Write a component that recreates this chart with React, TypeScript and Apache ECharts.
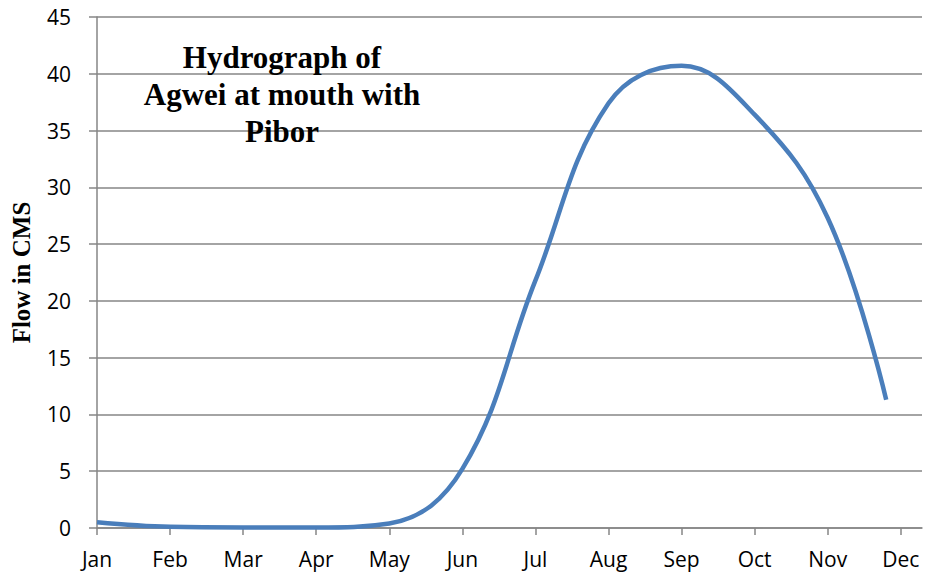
import React, { useEffect, useRef } from "react";
import * as echarts from "echarts";

const months = ["Jan", "Feb", "Mar", "Apr", "May", "Jun", "Jul", "Aug", "Sep", "Oct", "Nov", "Dec"];
const xPos = [0, 1, 2, 3, 4, 5, 6, 7, 8, 9, 10, 10.8];
const flow = [0.5, 0.1, 0.05, 0.05, 0.4, 5.2, 21.8, 37.4, 40.7, 36.4, 27.3, 11.3];
const yTicks = { min: 0, max: 45, interval: 5 };
const titleLines = ["Hydrograph of", "Agwei at mouth with", "Pibor"];

export default function App() {
  const ref = useRef<HTMLDivElement>(null);
  useEffect(() => {
    const chart = echarts.init(ref.current!, null, { renderer: "svg" });
    chart.setOption({
      animation: false,
      grid: { left: 97, right: 3, top: 17, bottom: 51, containLabel: false, outerBoundsMode: "none" },
      title: {
        text: titleLines.join("\n"),
        left: 277,
        top: 34,
        textAlign: "center",
        textStyle: {
          fontFamily: "Liberation Serif",
          fontWeight: "bold",
          fontSize: 31,
          lineHeight: 37,
          color: "#000",
        },
      },
      xAxis: {
        type: "value",
        min: 0,
        max: 11.29,
        interval: 1,
        axisLine: { show: true, lineStyle: { color: "#868686", width: 1.5 } },
        axisTick: { show: true, length: 7, lineStyle: { color: "#868686", width: 1.5 } },
        splitLine: { show: false },
        axisLabel: {
          fontFamily: "Open Sans",
          fontSize: 21,
          color: "#000",
          margin: 20,
          showMaxLabel: false,
          formatter: (v: number) => months[Math.round(v)] ?? "",
        },
      },
      yAxis: {
        type: "value",
        min: yTicks.min,
        max: yTicks.max,
        interval: yTicks.interval,
        name: "Flow in CMS",
        nameLocation: "middle",
        nameGap: 63,
        nameRotate: 90,
        nameTextStyle: {
          fontFamily: "Liberation Serif",
          fontWeight: "bold",
          fontSize: 25,
          color: "#000",
        },
        axisLine: { show: true, lineStyle: { color: "#868686", width: 1.5 } },
        axisTick: { show: true, length: 8, lineStyle: { color: "#868686", width: 1.5 } },
        splitLine: { show: true, lineStyle: { color: "#868686", width: 1.5 } },
        axisLabel: {
          fontFamily: "Open Sans",
          fontSize: 21,
          color: "#000",
          margin: 26,
        },
      },
      series: [
        {
          type: "line",
          data: xPos.map((x, i) => [x, flow[i]]),
          smooth: 0.4,
          showSymbol: false,
          lineStyle: { color: "#4a7ebb", width: 4.5 },
        },
      ],
    });
    return () => chart.dispose();
  }, []);
  return (
    <div
      ref={ref}
      style={{ position: "absolute", left: 0, top: 0, width: 925, height: 579 }}
    />
  );
}
